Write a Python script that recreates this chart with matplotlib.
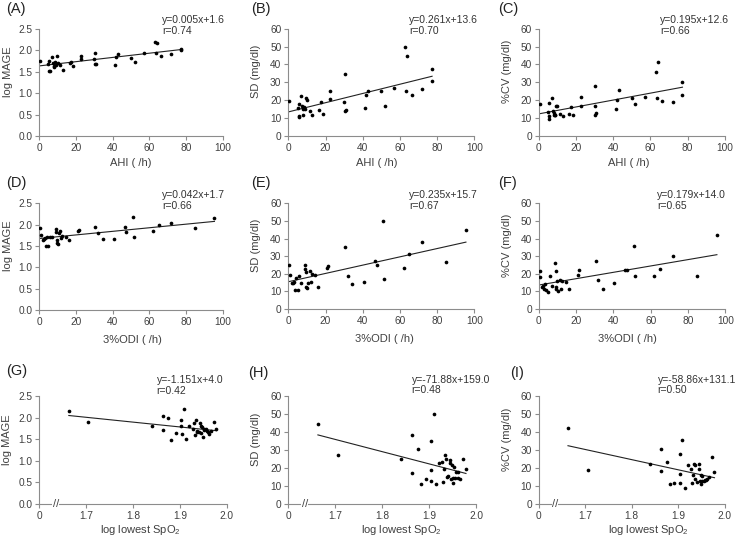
import matplotlib.pyplot as plt
import numpy as np

plt.rcParams['font.family'] = ['Liberation Sans', 'DejaVu Sans']
plt.rcParams['mathtext.fontset'] = 'custom'
plt.rcParams['mathtext.rm'] = 'Liberation Sans'
plt.rcParams['mathtext.default'] = 'regular'

# --- data ---
ahi = [0.5, 5, 5.5, 5.5, 5.7, 7, 7.5, 8, 8, 8.5, 9, 9.5, 10, 11.5, 13, 16.5, 17.5, 18.5,
       22.5, 22.5, 30, 30.5, 30.5, 31, 41.5, 42, 43, 50, 52, 57, 63, 63.5, 64, 66.5, 72, 77, 77.3]
mage_ahi = [1.75, 1.67, 1.51, 1.75, 1.51, 1.83, 1.69, 1.61, 1.64, 1.73, 1.66, 1.87, 1.71, 1.65,
            1.54, 1.71, 1.72, 1.63, 1.86, 1.79, 1.79, 1.94, 1.67, 1.68, 1.65, 1.83, 1.91, 1.82,
            1.72, 1.94, 2.20, 1.93, 2.16, 1.86, 1.91, 2.00, 2.03]
sd_ahi = [19.5, 15.5, 18, 11, 10.5, 22.5, 17, 15, 12, 16, 15, 21, 20, 14, 12, 14.5, 19, 12.5,
          25, 20.5, 19, 34.5, 14, 14.5, 15.5, 23, 25, 25, 17, 27, 50, 25, 44.5, 23, 26.5, 31, 37.5]
cv_ahi = [18, 13.5, 18.5, 11, 9.5, 21.5, 14, 12, 13, 11.5, 11.5, 16.5, 16.5, 12.5, 11, 12.5, 16, 12,
          22, 16.5, 16.5, 28, 11.5, 13, 15, 20, 25.5, 21.5, 18, 22, 36, 21, 41.5, 19.5, 19, 23, 30]

odi = [0.5, 0.7, 2, 2.5, 3, 3.5, 4, 5, 6, 7, 9, 9.2, 9.5, 9.5, 10, 10.5, 11.5, 12, 12.5, 14.5,
       16, 21, 21.5, 30.5, 32, 34.5, 40.5, 46.5, 47.5, 51, 51.5, 62, 65, 72, 85, 95.5]
mage_odi = [1.93, 1.75, 1.63, 1.67, 1.68, 1.49, 1.72, 1.51, 1.72, 1.70, 1.90, 1.82, 1.63, 1.58,
            1.55, 1.80, 1.86, 1.68, 1.73, 1.72, 1.64, 1.85, 1.88, 1.95, 1.80, 1.66, 1.66, 1.95,
            1.82, 2.19, 1.71, 1.86, 2.00, 2.04, 1.91, 2.15]
sd_odi = [25, 19.5, 14.5, 15, 15.5, 11, 17.5, 11, 18.5, 14.5, 25, 22.5, 21, 12.5, 12, 14.5, 21.5,
          15.5, 20, 19.5, 12.5, 23, 24.5, 35, 19, 14, 15.5, 27.5, 25, 50, 17, 23, 31, 38, 26.5, 45]
cv_odi = [21.5, 18, 12.5, 13, 11.5, 14, 11, 9.5, 19, 13, 26, 21.5, 12.5, 11.5, 16, 10.5, 16.5,
          11.5, 16, 15.5, 11.5, 19.5, 22, 27.5, 16.5, 11.5, 15, 22, 22, 35.5, 18.5, 19, 22.5, 30, 19, 42]

spo2 = [1.663, 1.705, 1.840, 1.863, 1.864, 1.875, 1.882, 1.892, 1.903, 1.903, 1.904, 1.909, 1.914,
        1.920, 1.928, 1.930, 1.932, 1.934, 1.936, 1.937, 1.940, 1.944, 1.945, 1.946, 1.948, 1.950,
        1.951, 1.952, 1.955, 1.957, 1.960, 1.962, 1.966, 1.972, 1.978]
mage_spo2 = [2.15, 1.91, 1.82, 2.04, 1.71, 2.00, 1.49, 1.65, 1.95, 1.80, 1.63, 2.20, 1.51, 1.82,
             1.75, 1.88, 1.60, 1.95, 1.68, 1.70, 1.66, 1.87, 1.82, 1.65, 1.78, 1.55, 1.72, 1.73,
             1.74, 1.70, 1.67, 1.62, 1.69, 1.90, 1.75]
sd_spo2 = [44.5, 27, 25, 38, 17, 30.5, 11, 14, 35, 19, 12.5, 50, 11, 22.5, 23, 12, 19.5, 27, 25,
           15, 15.5, 24.5, 22.5, 14, 21.5, 14.5, 11.5, 20.5, 14.5, 18, 17.5, 14.5, 14, 25, 19.5]
cv_spo2 = [42, 19, 22, 30.5, 18.5, 23, 11, 11.5, 27.5, 16.5, 11.5, 35.5, 9, 21.5, 19.5, 11.5, 16,
           22, 21.5, 14, 12, 22, 19.5, 12.5, 16, 11, 12.5, 15.5, 13, 13.5, 13.5, 14, 15, 26, 18]

panel_labels = ['(A)', '(B)', '(C)', '(D)', '(E)', '(F)', '(G)', '(H)', '(I)']
equations = ['y=0.005x+1.6\nr=0.74', 'y=0.261x+13.6\nr=0.70', 'y=0.195x+12.6\nr=0.66',
             'y=0.042x+1.7\nr=0.66', 'y=0.235x+15.7\nr=0.67', 'y=0.179x+14.0\nr=0.65',
             'y=-1.151x+4.0\nr=0.42', 'y=-71.88x+159.0\nr=0.48', 'y=-58.86x+131.1\nr=0.50']
ylabels = ['log MAGE', 'SD (mg/dl)', '%CV (mg/dl)']
xlabels = ['AHI ( /h)', '3%ODI ( /h)', 'log lowest SpO$_2$']
spo2_ticks = [1.6, 1.7, 1.8, 1.9, 2.0]
spo2_ticklabels = ['0', '1.7', '1.8', '1.9', '2.0']

xs = [ahi, odi, spo2]
ys = [[mage_ahi, sd_ahi, cv_ahi], [mage_odi, sd_odi, cv_odi], [mage_spo2, sd_spo2, cv_spo2]]

# axes boxes in pixels: (left, right, top, bottom)
W, H = 737, 536
boxes = [
    [(39.3, 222.7, 28.7, 136), (288.3, 474.3, 28.7, 136), (538.7, 724.7, 28.7, 136)],
    [(39.3, 222.7, 203.3, 310), (288.3, 474.3, 203.3, 309), (538.7, 725.3, 203.3, 309)],
    [(39.3, 226.7, 396.3, 504), (288.3, 476.3, 395.7, 504), (538.7, 724.7, 395.7, 504)],
]
label_pos = [[(6, 9), (251, 9), (498, 9)],
             [(6, 183), (251, 183), (498, 183)],
             [(6, 371), (248, 373), (510, 373)]]
eq_x = [[0.67, 0.65, 0.652], [0.67, 0.65, 0.634], [0.626, 0.656, 0.64]]
eq_y = [1.13, 1.125, 1.195]
xlab_x = [[0.50, 0.477, 0.486], [0.506, 0.515, 0.478], [0.54, 0.60, 0.59]]
xlab_y = [-0.205, -0.235, -0.175]

txt = '#404040'
spine = '#8c8c8c'

fig = plt.figure(figsize=(7.37, 5.36), dpi=100)

for r in range(3):
    for c in range(3):
        l, rt, t, b = boxes[r][c]
        ax = fig.add_axes([l / W, 1 - b / H, (rt - l) / W, (b - t) / H])
        x = np.array(xs[r])
        y = np.array(ys[r][c])
        ax.scatter(x, y, s=7, color='black', zorder=3, linewidths=0)
        k, b0 = np.polyfit(x, y, 1)
        xl = np.array([x.min(), x.max()])
        ax.plot(xl, k * xl + b0, color='#222222', lw=0.8)

        if c == 0:
            ax.set_ylim(0, 2.5)
            ax.set_yticks(np.arange(0, 2.51, 0.5))
            ax.set_yticklabels([f'{v:.1f}' for v in np.arange(0, 2.51, 0.5)])
        else:
            ax.set_ylim(0, 60)
            ax.set_yticks(range(0, 61, 10))
        if r < 2:
            ax.set_xlim(0, 100)
            ax.set_xticks(range(0, 101, 20))
        else:
            ax.set_xlim(1.6, 2.0)
            ax.set_xticks(spo2_ticks)
            ax.set_xticklabels(spo2_ticklabels)
            # axis break mark
            ax.text(1.635, 0, '//', transform=ax.get_xaxis_transform(), ha='center', va='center',
                    fontsize=8, color=txt, clip_on=False,
                    bbox=dict(facecolor='white', edgecolor='none', pad=0.2))

        for s in ['top', 'right']:
            ax.spines[s].set_visible(False)
        for s in ['left', 'bottom']:
            ax.spines[s].set_color(spine)
            ax.spines[s].set_linewidth(0.8)
        ax.tick_params(direction='out', length=3, width=0.8, color=spine,
                       labelsize=7.3, labelcolor=txt, pad=2)

        ax.set_ylabel(ylabels[c], fontsize=8, color=txt)
        ax.yaxis.set_label_coords(-0.145, 0.6)
        ax.set_xlabel(xlabels[r], fontsize=8, color=txt)
        ax.xaxis.set_label_coords(xlab_x[r][c], xlab_y[r])

        ax.text(eq_x[r][c], eq_y[r], equations[r * 3 + c], transform=ax.transAxes,
                ha='left', va='top', fontsize=7.5, color='#333333', linespacing=1.1)
        px, py = label_pos[r][c]
        fig.text(px / W, 1 - py / H, panel_labels[r * 3 + c], fontsize=10.5,
                 color='#222222', ha='left', va='center')

fig.savefig('out.png', dpi=100)
